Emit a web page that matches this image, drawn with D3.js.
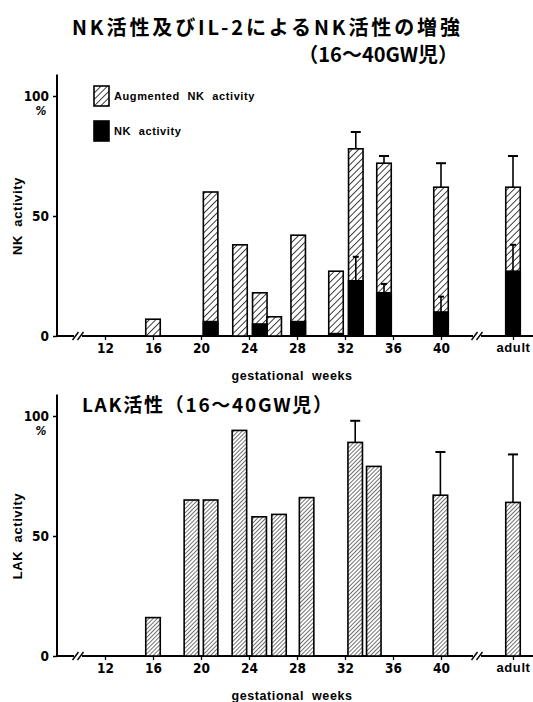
<!DOCTYPE html>
<html>
<head>
<meta charset="utf-8">
<script src="https://cdn.jsdelivr.net/npm/d3@7"></script>
<style>
  body { margin: 0; background: #fff; }
  svg { display: block; }
  .num { font-family: "Liberation Sans Narrow", "DejaVu Sans Condensed", "Liberation Sans", sans-serif; font-weight: bold; font-size: 13px; font-stretch: condensed; }
  .lab { font-family: "Liberation Sans", "DejaVu Sans", sans-serif; font-size: 11.5px; letter-spacing: 0.6px; word-spacing: 4px; }
  .jp { font-family: "Noto Sans CJK JP", sans-serif; font-weight: bold; }
</style>
</head>
<body>
<svg id="chart" width="533" height="702"></svg>
<script>
(function () {
    "use strict";

    // weeks (adult is put at 46 on the week scale, after the axis break)
    var ADULT = 46;
    var xTicks = [12, 16, 20, 24, 28, 32, 36, 40, ADULT];
    var yTicks = [0, 50, 100];

    // NK activity panel
    var nkWeeks = [16, 20.8, 23.25, 24.9, 26.1, 28.1, 31.25, 32.9, 35.25, 40, ADULT];
    var augmentedNK = [7, 60, 38, 18, 8, 42, 27, 78, 72, 62, 62];
    var baseNK = [0, 6, 0, 5, 0, 6, 1, 23, 18, 10, 27];
    var augmentedErr = [null, null, null, null, null, null, null, 85, 75, 72, 75];
    var baseErr = [null, null, null, null, null, null, null, 33, 21.7, 16.4, 38];

    // LAK activity panel
    var lakWeeks = [16, 19.2, 20.8, 23.2, 24.85, 26.5, 28.8, 32.85, 34.4, 39.95, ADULT];
    var lakValues = [16, 65, 65, 94, 58, 59, 66, 89, 79, 67, 64];
    var lakErr = [null, null, null, null, null, null, null, 98, null, 85, 84];

    var svg = d3.select("#chart");
    var barW = 14.5;

    // hatch patterns
    var defs = svg.append("defs");
    function hatch(id, gap, sw) {
        var p = defs.append("pattern")
            .attr("id", id)
            .attr("patternUnits", "userSpaceOnUse")
            .attr("width", gap)
            .attr("height", gap)
            .attr("patternTransform", "rotate(45)");
        p.append("rect").attr("width", gap).attr("height", gap).attr("fill", "#fff");
        p.append("line")
            .attr("x1", 0).attr("y1", 0)
            .attr("x2", 0).attr("y2", gap)
            .attr("stroke", "#000")
            .attr("stroke-width", sw);
    }
    hatch("hatchWide", 4.6, 1.5);
    hatch("hatchFine", 2.9, 1.1);

    var x = d3.scaleLinear().domain([12, 40]).range([105, 441]);

    function drawPanel(y0, yLabel) {
        var y = d3.scaleLinear().domain([0, 100]).range([y0, y0 - 240]);
        var g = svg.append("g");

        // y axis
        var ya = g.append("g")
            .attr("transform", "translate(57,0)")
            .call(d3.axisLeft(y).tickValues(yTicks).tickSize(4).tickPadding(4));
        ya.select(".domain").remove();
        ya.selectAll(".tick line").attr("stroke", "#000").attr("stroke-width", 1.5);
        ya.selectAll(".tick text").attr("class", "num").attr("fill", "#000").style("font-size", "13.5px");
        g.append("line")
            .attr("x1", 57).attr("x2", 57)
            .attr("y1", y0 + 1).attr("y2", y(109))
            .attr("stroke", "#000").attr("stroke-width", 2);
        g.append("text")
            .attr("class", "num")
            .attr("x", 41).attr("y", y(100) + 19)
            .attr("text-anchor", "middle")
            .style("font-size", "12px")
            .style("font-style", "italic")
            .text("%");

        // x axis
        var xa = g.append("g")
            .attr("transform", "translate(0," + y0 + ")")
            .call(d3.axisBottom(x).tickValues(xTicks).tickSize(4).tickPadding(3)
                .tickFormat(function (d) { return d === ADULT ? "adult" : d; }));
        xa.select(".domain").remove();
        xa.selectAll(".tick line").attr("stroke", "#000").attr("stroke-width", 1.3);
        xa.selectAll(".tick text")
            .attr("class", function (d) { return d === ADULT ? "lab" : "num"; })
            .attr("fill", "#000")
            .style("font-size", function (d) { return d === ADULT ? "13px" : "13.5px"; })
            .style("font-weight", "bold");
        g.append("line")
            .attr("x1", 56).attr("x2", 533)
            .attr("y1", y0).attr("y2", y0)
            .attr("stroke", "#000").attr("stroke-width", 2);

        // axis breaks
        [9.75, 43].forEach(function (w) {
            var bx = x(w);
            g.append("rect")
                .attr("x", bx - 4).attr("y", y0 - 3)
                .attr("width", 8).attr("height", 6)
                .attr("fill", "#fff");
            [-2.5, 2.5].forEach(function (o) {
                g.append("line")
                    .attr("x1", bx + o - 3).attr("y1", y0 + 4)
                    .attr("x2", bx + o + 3).attr("y2", y0 - 4)
                    .attr("stroke", "#000").attr("stroke-width", 1.4);
            });
        });

        // axis titles
        g.append("text")
            .attr("class", "lab")
            .attr("transform", "translate(22," + y(50) + ") rotate(-90)")
            .attr("text-anchor", "middle")
            .style("font-size", "13px")
            .style("font-weight", "bold")
            .text(yLabel);
        g.append("text")
            .attr("class", "lab")
            .attr("x", 292).attr("y", y0 + 44)
            .attr("text-anchor", "middle")
            .style("font-size", "12.5px")
            .style("font-weight", "bold")
            .text("gestational weeks");

        return { g: g, y: y };
    }

    function errorBars(g, y, weeks, tops, lows, cap, offset) {
        weeks.forEach(function (w, i) {
            if (tops[i] == null) return;
            var cx = x(w) + offset;
            g.append("line")
                .attr("x1", cx).attr("x2", cx)
                .attr("y1", y(lows[i])).attr("y2", y(tops[i]))
                .attr("stroke", "#000").attr("stroke-width", 1.6);
            g.append("line")
                .attr("x1", cx - cap / 2).attr("x2", cx + cap / 2)
                .attr("y1", y(tops[i])).attr("y2", y(tops[i]))
                .attr("stroke", "#000").attr("stroke-width", 2);
        });
    }

    // ---- top panel: NK activity ----
    var top = drawPanel(336, "NK activity");
    top.g.selectAll("rect.aug")
        .data(augmentedNK)
        .enter()
        .append("rect")
        .attr("x", function (d, i) { return x(nkWeeks[i]) - barW / 2; })
        .attr("y", function (d) { return top.y(d); })
        .attr("width", barW)
        .attr("height", function (d) { return top.y(0) - top.y(d); })
        .attr("fill", "url(#hatchWide)")
        .attr("stroke", "#000")
        .attr("stroke-width", 1.6);
    top.g.selectAll("rect.nk")
        .data(baseNK)
        .enter()
        .append("rect")
        .attr("x", function (d, i) { return x(nkWeeks[i]) - barW / 2; })
        .attr("y", function (d) { return top.y(d); })
        .attr("width", barW)
        .attr("height", function (d) { return top.y(0) - top.y(d); })
        .attr("fill", "#000")
        .attr("stroke", "#000")
        .attr("stroke-width", 1.6);
    errorBars(top.g, top.y, nkWeeks, augmentedErr, augmentedNK, 10, 0);
    errorBars(top.g, top.y, nkWeeks, baseErr, baseNK, 6, 0);

    // legend
    var legendItems = [
        { label: "Augmented NK activity", fill: "url(#hatchWide)" },
        { label: "NK activity", fill: "#000" }
    ];
    var leg = svg.append("g").selectAll("g")
        .data(legendItems)
        .enter()
        .append("g")
        .attr("transform", function (d, i) { return "translate(94," + (86 + i * 35) + ")"; });
    leg.append("rect")
        .attr("width", 15).attr("height", 20)
        .attr("fill", function (d) { return d.fill; })
        .attr("stroke", "#000").attr("stroke-width", 1.6);
    leg.append("text")
        .attr("class", "lab")
        .attr("x", 20).attr("y", 14)
        .style("font-size", "11px")
        .style("font-weight", "bold")
        .text(function (d) { return d.label; });

    // ---- bottom panel: LAK activity ----
    var bottom = drawPanel(656, "LAK activity");
    bottom.g.selectAll("rect.lak")
        .data(lakValues)
        .enter()
        .append("rect")
        .attr("x", function (d, i) { return x(lakWeeks[i]) - barW / 2; })
        .attr("y", function (d) { return bottom.y(d); })
        .attr("width", barW)
        .attr("height", function (d) { return bottom.y(0) - bottom.y(d); })
        .attr("fill", "url(#hatchFine)")
        .attr("stroke", "#000")
        .attr("stroke-width", 1.6);
    errorBars(bottom.g, bottom.y, lakWeeks, lakErr, lakValues, 10, 0);

    // titles
    svg.append("text")
        .attr("class", "jp")
        .attr("x", 460).attr("y", 35)
        .attr("text-anchor", "end")
        .attr("textLength", 388)
        .style("font-size", "20px")
        .text("NK活性及びIL-2によるNK活性の増強");
    svg.append("text")
        .attr("class", "jp")
        .attr("x", 458).attr("y", 62)
        .attr("text-anchor", "end")
        .style("font-size", "20px")
        .text("（16〜40GW児）");
    svg.append("text")
        .attr("class", "jp")
        .attr("x", 82).attr("y", 412)
        .attr("textLength", 250)
        .style("font-size", "19px")
        .text("LAK活性（16〜40GW児）");
})();
</script>
</body>
</html>
